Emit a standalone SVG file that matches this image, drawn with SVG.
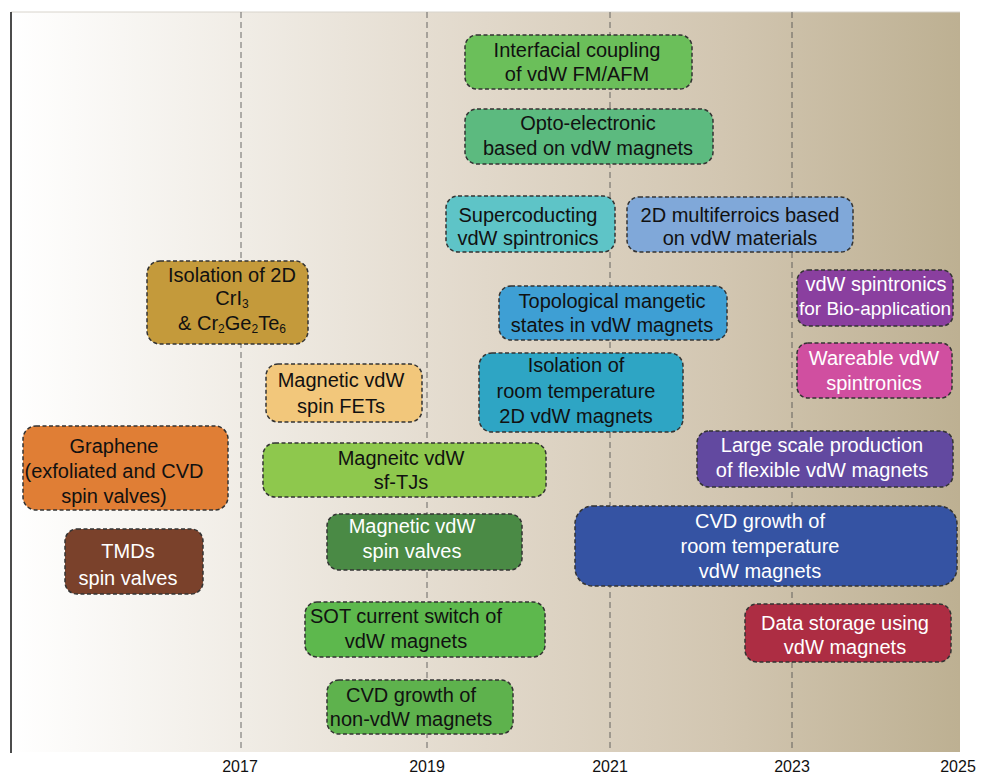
<svg xmlns="http://www.w3.org/2000/svg" width="982" height="777" viewBox="0 0 982 777">
  <defs>
    <linearGradient id="bgGrad" x1="0" y1="0" x2="1" y2="0">
      <stop offset="0" stop-color="#ffffff"/>
      <stop offset="0.25" stop-color="#f0ece5"/>
      <stop offset="0.5" stop-color="#e1d8ca"/>
      <stop offset="0.75" stop-color="#d2c6b1"/>
      <stop offset="1" stop-color="#bdb092"/>
    </linearGradient>
    <style>
      .box { stroke: #333333; stroke-width: 1.5; stroke-dasharray: 4 2.5; }
      .lbl { font-family: "Liberation Sans", Arial, sans-serif; font-size: 20px; text-anchor: middle; fill: #111111; }
      .lbl.w { fill: #ffffff; }
      .yr { font-family: "Liberation Sans", Arial, sans-serif; font-size: 16px; text-anchor: middle; fill: #111111; }
      .grid { stroke: #4a4a4a; stroke-width: 1; stroke-dasharray: 6 4; opacity: 0.8; }
      .sub { font-size: 12px; }
    </style>
  </defs>

  <!-- timeline background -->
  <rect x="11" y="12" width="949" height="740" fill="url(#bgGrad)"/>
  <line x1="11" y1="12" x2="960" y2="12" stroke="#d8d4cc" stroke-width="1"/>

  <!-- year grid and axis -->
  <g id="connectors">
    <line class="grid" x1="241" y1="12" x2="241" y2="752"/>
    <line class="grid" x1="427" y1="12" x2="427" y2="752"/>
    <line class="grid" x1="610" y1="12" x2="610" y2="752"/>
    <line class="grid" x1="792" y1="12" x2="792" y2="752"/>
    <line x1="11" y1="12" x2="11" y2="753" stroke="#111111" stroke-width="1.5"/>
  </g>

  <g id="years">
    <text class="yr" x="240" y="772">2017</text>
    <text class="yr" x="427" y="772">2019</text>
    <text class="yr" x="610" y="772">2021</text>
    <text class="yr" x="792" y="772">2023</text>
    <text class="yr" x="958" y="772">2025</text>
  </g>

  <g id="interfacial-coupling">
    <rect class="box" x="465" y="35" width="227" height="54" rx="12" fill="#6bbf5a"/>
    <text class="lbl" x="577" y="57">Interfacial coupling</text>
    <text class="lbl" x="577" y="81">of vdW FM/AFM</text>
  </g>

  <g id="opto-electronic">
    <rect class="box" x="465" y="109" width="248" height="55" rx="12" fill="#5cba7f"/>
    <text class="lbl" x="588" y="130">Opto-electronic</text>
    <text class="lbl" x="588" y="155">based on vdW magnets</text>
  </g>

  <g id="superconducting">
    <rect class="box" x="446" y="196" width="169" height="56" rx="12" fill="#5ec4c7"/>
    <text class="lbl" x="528" y="222">Supercoducting</text>
    <text class="lbl" x="528" y="245">vdW spintronics</text>
  </g>

  <g id="multiferroics">
    <rect class="box" x="627" y="197" width="226" height="55" rx="12" fill="#80a8d9"/>
    <text class="lbl" x="740" y="222">2D multiferroics based</text>
    <text class="lbl" x="740" y="245">on vdW materials</text>
  </g>

  <g id="cri3-isolation">
    <rect class="box" x="147" y="261" width="161" height="83" rx="13" fill="#c49a3b"/>
    <text class="lbl" x="232" y="282">Isolation of 2D</text>
    <text class="lbl" x="232" y="305">CrI<tspan class="sub" dy="3">3</tspan></text>
    <text class="lbl" x="232" y="330">&amp; Cr<tspan class="sub" dy="3">2</tspan><tspan dy="-3">Ge</tspan><tspan class="sub" dy="3">2</tspan><tspan dy="-3">Te</tspan><tspan class="sub" dy="3">6</tspan></text>
  </g>

  <g id="topological">
    <rect class="box" x="499" y="286" width="228" height="54" rx="12" fill="#3e9fd4"/>
    <text class="lbl" x="612" y="308">Topological mangetic</text>
    <text class="lbl" x="612" y="332">states in vdW magnets</text>
  </g>

  <g id="bio-application">
    <rect class="box" x="797" y="270" width="156" height="56" rx="11" fill="#8a3f9f"/>
    <text class="lbl w" x="876" y="291">vdW spintronics</text>
    <text class="lbl w" x="875" y="315" style="font-size:19px">for Bio-application</text>
  </g>

  <g id="room-temp-isolation">
    <rect class="box" x="479" y="353" width="204" height="79" rx="13" fill="#2ea5c4"/>
    <text class="lbl" x="576" y="372">Isolation of</text>
    <text class="lbl" x="576" y="398">room temperature</text>
    <text class="lbl" x="576" y="423">2D vdW magnets</text>
  </g>

  <g id="spin-fets">
    <rect class="box" x="266" y="364" width="156" height="58" rx="12" fill="#f2c77b"/>
    <text class="lbl" x="341" y="387">Magnetic vdW</text>
    <text class="lbl" x="341" y="413">spin FETs</text>
  </g>

  <g id="wearable">
    <rect class="box" x="797" y="343" width="155" height="55" rx="11" fill="#d04fa0"/>
    <text class="lbl w" x="874" y="365">Wareable vdW</text>
    <text class="lbl w" x="874" y="390">spintronics</text>
  </g>

  <g id="graphene">
    <rect class="box" x="23" y="426" width="205" height="84" rx="13" fill="#e07e35"/>
    <text class="lbl" x="114" y="453">Graphene</text>
    <text class="lbl" x="114" y="478">(exfoliated and CVD</text>
    <text class="lbl" x="114" y="503">spin valves)</text>
  </g>

  <g id="sf-tjs">
    <rect class="box" x="263" y="443" width="283" height="54" rx="12" fill="#8ec84d"/>
    <text class="lbl" x="401" y="465">Magneitc vdW</text>
    <text class="lbl" x="401" y="489">sf-TJs</text>
  </g>

  <g id="large-scale">
    <rect class="box" x="697" y="431" width="256" height="56" rx="12" fill="#6249a0"/>
    <text class="lbl w" x="822" y="452">Large scale production</text>
    <text class="lbl w" x="822" y="477">of flexible vdW magnets</text>
  </g>

  <g id="tmds">
    <rect class="box" x="65" y="529" width="138" height="65" rx="12" fill="#7a412b"/>
    <text class="lbl w" x="128" y="558">TMDs</text>
    <text class="lbl w" x="128" y="585">spin valves</text>
  </g>

  <g id="spin-valves">
    <rect class="box" x="327" y="514" width="195" height="56" rx="12" fill="#4a8a45"/>
    <text class="lbl w" x="412" y="533">Magnetic vdW</text>
    <text class="lbl w" x="412" y="558">spin valves</text>
  </g>

  <g id="cvd-room-temp">
    <rect class="box" x="575" y="506" width="382" height="80" rx="18" fill="#3553a3"/>
    <text class="lbl w" x="760" y="528">CVD growth of</text>
    <text class="lbl w" x="760" y="553">room temperature</text>
    <text class="lbl w" x="760" y="578">vdW magnets</text>
  </g>

  <g id="sot-switch">
    <rect class="box" x="305" y="602" width="240" height="55" rx="12" fill="#5db84d"/>
    <text class="lbl" x="406" y="623">SOT current switch of</text>
    <text class="lbl" x="406" y="648">vdW magnets</text>
  </g>

  <g id="data-storage">
    <rect class="box" x="745" y="604" width="206" height="58" rx="12" fill="#ad2d43"/>
    <text class="lbl w" x="845" y="630">Data storage using</text>
    <text class="lbl w" x="845" y="654">vdW magnets</text>
  </g>

  <g id="cvd-non-vdw">
    <rect class="box" x="327" y="680" width="186" height="54" rx="12" fill="#5eb24d"/>
    <text class="lbl" x="411" y="702">CVD growth of</text>
    <text class="lbl" x="411" y="726">non-vdW magnets</text>
  </g>
</svg>
